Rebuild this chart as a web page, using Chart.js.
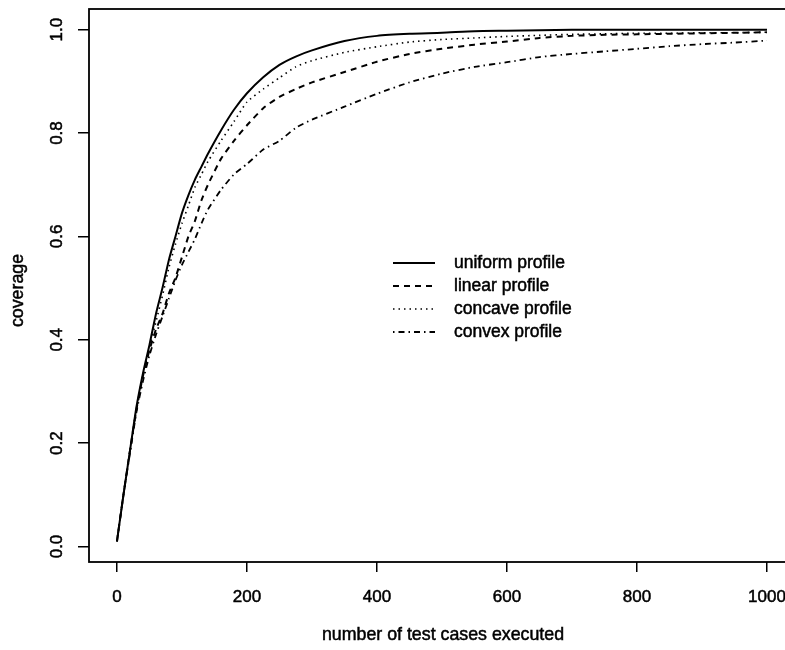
<!DOCTYPE html>
<html>
<head>
<meta charset="utf-8">
<script src="https://cdn.jsdelivr.net/npm/chart.js@4.4.1/dist/chart.umd.min.js"></script>
<style>
  html, body { margin: 0; padding: 0; background: #fff; overflow: hidden; }
  #wrap { width: 800px; height: 650px; }
</style>
</head>
<body>
<div id="wrap"><canvas id="c" width="800" height="650"></canvas></div>
<script>
// ---- data ----
const testCases = [0,10,20,30,40,50,60,70,80,90,100,110,120,130,140,160,180,200,225,250,275,300,350,400,450,500,550,600,650,700,750,800,850,900,950,1000];
const uniformProfile = [0.01,0.10,0.185,0.27,0.335,0.39,0.45,0.50,0.555,0.60,0.645,0.68,0.71,0.735,0.76,0.805,0.845,0.877,0.908,0.932,0.948,0.960,0.978,0.988,0.992,0.994,0.997,0.998,0.999,1.0,1.0,1.0,1.0,1.0,1.0,1.0];
const linearProfile  = [0.01,0.10,0.185,0.265,0.33,0.38,0.42,0.45,0.49,0.52,0.56,0.60,0.63,0.67,0.70,0.75,0.785,0.815,0.848,0.870,0.885,0.898,0.918,0.938,0.953,0.963,0.971,0.977,0.984,0.988,0.990,0.991,0.992,0.993,0.994,0.995];
const concaveProfile = [0.01,0.10,0.185,0.265,0.33,0.385,0.435,0.485,0.54,0.585,0.625,0.66,0.695,0.72,0.745,0.785,0.822,0.86,0.885,0.907,0.928,0.94,0.956,0.967,0.976,0.981,0.984,0.987,0.989,0.991,0.992,0.993,0.993,0.994,0.994,0.995];
const convexProfile  = [0.01,0.10,0.18,0.26,0.32,0.37,0.41,0.445,0.48,0.515,0.545,0.57,0.595,0.625,0.652,0.69,0.72,0.74,0.768,0.785,0.81,0.826,0.851,0.876,0.898,0.915,0.928,0.937,0.947,0.953,0.958,0.963,0.968,0.972,0.975,0.979];
const seriesNames = ['uniform profile','linear profile','concave profile','convex profile'];
const xTicks = [0,200,400,600,800,1000];
const xTickLabels = ['0','200','400','600','800','1000'];
const yTicks = [0,0.2,0.4,0.6,0.8,1.0];
const yTickLabels = ['0.0','0.2','0.4','0.6','0.8','1.0'];
const xTitle = 'number of test cases executed';
const yTitle = 'coverage';

// ---- styles ----
const FONT = '17px "Liberation Sans", Arial, Helvetica, sans-serif';
const TITLE_FONT = '17.8px "Liberation Sans", Arial, Helvetica, sans-serif';
const LEGEND_FONT = '17.5px "Liberation Sans", Arial, Helvetica, sans-serif';
const styles = [
  { dash: [], width: 2 },
  { dash: [6, 5], width: 2 },
  { dash: [1.5, 4], width: 1.6 },
  { dash: [1.5, 4, 6, 4], width: 1.8 }
];
const seriesValues = [uniformProfile, linearProfile, concaveProfile, convexProfile];

const datasets = seriesValues.map((vals, i) => ({
  label: seriesNames[i],
  data: testCases.map((x, k) => ({ x: x, y: vals[k] })),
  borderColor: '#000',
  borderWidth: styles[i].width,
  borderDash: styles[i].dash,
  pointRadius: 0,
  tension: 0.2,
  fill: false
}));

function heavyText(ctx, txt, x, y) {
  ctx.fillText(txt, x, y);
  ctx.strokeText(txt, x, y);
}

const rStyle = {
  id: 'rStyle',
  afterDraw(chart) {
    const ctx = chart.ctx;
    const a = chart.chartArea;
    const xs = chart.scales.x, ys = chart.scales.y;
    ctx.save();
    // box
    ctx.strokeStyle = '#000';
    ctx.lineWidth = 1.8;
    ctx.setLineDash([]);
    ctx.strokeRect(a.left, a.top, a.right - a.left, a.bottom - a.top);
    ctx.fillStyle = '#000';
    ctx.font = FONT;
    ctx.lineWidth = 0.5;
    // x tick labels
    ctx.textAlign = 'center';
    ctx.textBaseline = 'middle';
    xTicks.forEach((v, i) => heavyText(ctx, xTickLabels[i], xs.getPixelForValue(v), 597));
    // y tick labels (rotated)
    yTicks.forEach((v, i) => {
      ctx.save();
      ctx.translate(57, ys.getPixelForValue(v));
      ctx.rotate(-Math.PI / 2);
      heavyText(ctx, yTickLabels[i], 0, 0);
      ctx.restore();
    });
    // titles
    ctx.font = TITLE_FONT;
    heavyText(ctx, xTitle, (a.left + a.right) / 2 + 2, 635);
    ctx.save();
    ctx.translate(18, (a.top + a.bottom) / 2 + 5);
    ctx.rotate(-Math.PI / 2);
    heavyText(ctx, yTitle, 0, 0);
    ctx.restore();
    // legend
    ctx.font = LEGEND_FONT;
    const legY = [263, 286, 309, 332];
    seriesNames.forEach((name, i) => {
      ctx.beginPath();
      ctx.lineWidth = styles[i].width;
      ctx.setLineDash(styles[i].dash);
      ctx.moveTo(393, legY[i]);
      ctx.lineTo(435, legY[i]);
      ctx.stroke();
      ctx.setLineDash([]);
      ctx.lineWidth = 0.5;
      ctx.textAlign = 'left';
      heavyText(ctx, name, 454, legY[i]);
    });
    ctx.restore();
  }
};

new Chart(document.getElementById('c'), {
  type: 'line',
  data: { datasets: datasets },
  options: {
    responsive: false,
    animation: false,
    devicePixelRatio: 1,
    layout: { padding: { top: 9, right: 7, left: 0, bottom: 0 } },
    plugins: { legend: { display: false }, tooltip: { enabled: false } },
    scales: {
      x: {
        type: 'linear',
        min: -43, max: 1040,
        afterBuildTicks: s => { s.ticks = xTicks.map(v => ({ value: v })); },
        afterFit: s => { s.height = 88; },
        ticks: { display: false },
        grid: { display: true, drawOnChartArea: false, drawTicks: true, tickLength: 10, color: '#000', lineWidth: 1.5 },
        border: { display: false }
      },
      y: {
        type: 'linear',
        min: -0.03, max: 1.04,
        afterBuildTicks: s => { s.ticks = yTicks.map(v => ({ value: v })); },
        afterFit: s => { s.width = 89; },
        ticks: { display: false },
        grid: { display: true, drawOnChartArea: false, drawTicks: true, tickLength: 11, color: '#000', lineWidth: 1.5 },
        border: { display: false }
      }
    }
  },
  plugins: [rStyle]
});
</script>
</body>
</html>
